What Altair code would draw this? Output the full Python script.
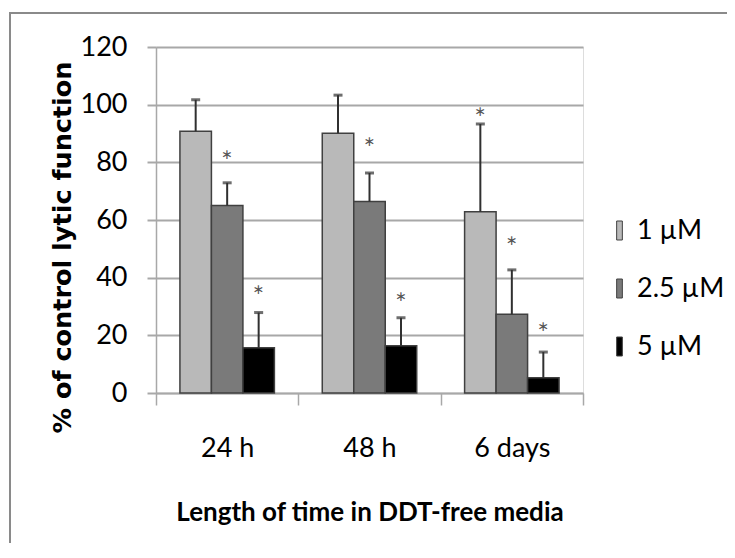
import altair as alt
import pandas as pd

times = ["24 h", "48 h", "6 days"]
concs = ["1 µM", "2.5 µM", "5 µM"]

mean_1 = [90.8, 90.1, 62.9]
mean_25 = [65.0, 66.4, 27.3]
mean_5 = [15.7, 16.4, 5.3]

err_1 = [101.7, 103.3, 93.3]
err_25 = [72.9, 76.3, 42.7]
err_5 = [27.9, 26.1, 14.2]

star_1 = [None, None, 97.3]
star_25 = [82.5, 87.0, 52.8]
star_5 = [35.6, 33.4, 23.0]

colors = ["#b9b9b9", "#7a7a7a", "#000000"]
y_ticks = [0, 20, 40, 60, 80, 100, 120]

rows = []
for c, ms, es, ss in zip(concs, [mean_1, mean_25, mean_5], [err_1, err_25, err_5], [star_1, star_25, star_5]):
    for t, m, e, s in zip(times, ms, es, ss):
        rows.append({"time": t, "conc": c, "mean": m, "err": e, "star": s})
df = pd.DataFrame(rows)

FONT = "Lato, Open Sans, sans-serif"
GRID = "#a8a8a8"

x = alt.X(
    "time:N", sort=times,
    scale=alt.Scale(paddingInner=0, paddingOuter=0),
    axis=alt.Axis(
        title="Length of time in DDT-free media", labelAngle=0, tickBand="extent",
        domainColor=GRID, domainWidth=1.5, tickColor=GRID, tickWidth=1.5, tickSize=12,
        labelFont=FONT, labelFontSize=27, labelColor="black", labelPadding=30,
        titleFont=FONT, titleFontWeight="bold", titleFontSize=26, titleColor="black",
        titlePadding=38, grid=False,
    ),
)
xo = alt.XOffset("conc:N", sort=concs, scale=alt.Scale(paddingOuter=0.76, paddingInner=0))
yax = alt.Axis(
    title="% of control lytic function", values=y_ticks, grid=True,
    gridColor=GRID, gridWidth=2, domainColor=GRID, domainWidth=1.5,
    tickColor=GRID, tickWidth=2, tickSize=9,
    labelFont=FONT, labelFontSize=27, labelColor="black", labelPadding=20,
    titleFont="DejaVu Sans", titleFontWeight="bold", titleFontSize=25.5,
    titleColor="black", titleX=-81, titleY=200,
)
color = alt.Color(
    "conc:N", scale=alt.Scale(domain=concs, range=colors),
    legend=alt.Legend(
        title=None, orient="none", legendX=450, legendY=170,
        symbolType="M-0.3,-1L0.3,-1L0.3,1L-0.3,1Z", symbolSize=361,
        symbolStrokeColor="#404040", symbolStrokeWidth=1,
        labelFont=FONT, labelFontSize=27, labelColor="black", labelOffset=4,
        rowPadding=30,
    ),
)

base = alt.Chart(df)
bars = base.mark_bar(stroke="#404040", strokeWidth=1.5).encode(
    x=x, xOffset=xo,
    y=alt.Y("mean:Q", scale=alt.Scale(domain=[0, 120]), axis=yax),
    color=color,
)
stems = base.mark_rule(color="#303030", strokeWidth=2).encode(
    x=x, xOffset=xo, y="mean:Q", y2="err:Q"
)
caps = base.mark_tick(orient="horizontal", size=9, thickness=3, color="#303030").encode(
    x=x, xOffset=xo, y="err:Q"
)
stars = base.transform_filter("isValid(datum.star)").mark_text(
    text="∗", fontSize=14, color="#555555", font="DejaVu Sans"
).encode(x=x, xOffset=xo, y="star:Q")

frame_df = pd.DataFrame({"a": [0]})
frame_left = alt.Chart(frame_df).mark_rule(color="#8a8a8a", strokeWidth=2).encode(
    x=alt.value(-146), y=alt.value(-34), y2=alt.value(520)
)
frame_top = alt.Chart(frame_df).mark_rule(color="#8a8a8a", strokeWidth=2).encode(
    x=alt.value(-147), x2=alt.value(600), y=alt.value(-34)
)

chart = alt.layer(frame_left, frame_top, bars, stems, caps, stars).properties(
    width=427, height=346,
    autosize=alt.AutoSizeParams(type="none"),
    padding={"left": 148, "top": 39, "right": 144, "bottom": 150},
).configure_view(stroke=None).configure(background="white")

chart.save("out.html", embed_options={"renderer": "svg", "actions": False})
